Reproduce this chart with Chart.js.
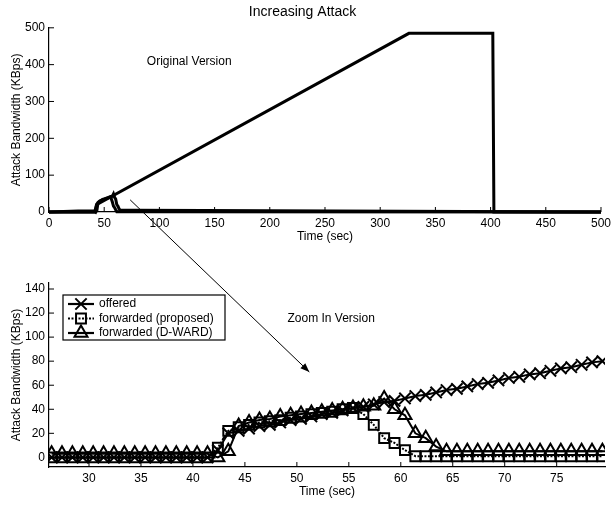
<!DOCTYPE html>
<html>
<head>
<meta charset="utf-8">
<script src="https://cdn.jsdelivr.net/npm/chart.js@4.4.1/dist/chart.umd.min.js"></script>
<style>
  html, body { margin: 0; padding: 0; background: #fff; }
  #wrap { position: relative; width: 615px; height: 505px; }
  #wrap canvas { position: absolute; left: 0; }
  #top   { top: 0; }
  #zoom  { top: 250px; }
  #arrow { top: 0; pointer-events: none; }
</style>
</head>
<body>
<div id="wrap">
  <canvas id="top" width="615" height="250"></canvas>
  <canvas id="zoom" width="615" height="255"></canvas>
  <canvas id="arrow" width="615" height="505"></canvas>
</div>
<script>
/* ═══════════════════════════════════════════════════════════
   DATA
════════════════════════════════════════════════════════════ */
// full run (top panel)
const fullTime    = [0, 41.4, 43, 326, 402, 403, 500];
const fullOffered = [0, 0, 20, 485, 485, 0, 0];
const fullTicksX  = [0, 50, 100, 150, 200, 250, 300, 350, 400, 450, 500];
const fullTicksY  = [0, 100, 200, 300, 400, 500];

// zoomed window (bottom panel), one sample per second
const zoomTime = [26.4, 27.4, 28.4, 29.4, 30.4, 31.4, 32.4, 33.4, 34.4, 35.4,
                  36.4, 37.4, 38.4, 39.4, 40.4, 41.4, 42.4, 43.4, 44.4, 45.4,
                  46.4, 47.4, 48.4, 49.4, 50.4, 51.4, 52.4, 53.4, 54.4, 55.4,
                  56.4, 57.4, 58.4, 59.4, 60.4, 61.4, 62.4, 63.4, 64.4, 65.4,
                  66.4, 67.4, 68.4, 69.4, 70.4, 71.4, 72.4, 73.4, 74.4, 75.4,
                  76.4, 77.4, 78.4, 79.4];
const offered  = [0, 0, 0, 0, 0, 0, 0, 0, 0, 0,
                  0, 0, 0, 0, 0, 0, 6, 20, 22, 24,
                  26, 27, 29, 31, 32, 34, 36, 37, 39, 41,
                  42, 44, 46, 47, 49, 51, 52, 54, 56, 57,
                  59, 61, 62, 64, 66, 67, 69, 70, 72, 74,
                  75, 77, 79, 80];
const fwdProposed = [0, 0, 0, 0, 0, 0, 0, 0, 0, 0,
                     0, 0, 0, 0, 0, 0, 8, 22, 25, 27,
                     29, 30, 31, 33, 34, 36, 37, 38, 40, 41,
                     36, 27, 16, 12, 6, 1, 1, 1, 1, 1,
                     1, 1, 1, 1, 1, 1, 1, 1, 1, 1,
                     1, 1, 1, 1];
const fwdDward = [3, 3, 3, 3, 3, 3, 3, 3, 3, 3,
                  3, 3, 3, 3, 3, 3, 0, 5, 26, 29,
                  31, 32, 34, 35, 36, 37, 38, 39, 40, 41,
                  42, 43, 49, 40, 35, 20, 16, 9, 5, 5,
                  5, 5, 5, 5, 5, 5, 5, 5, 5, 5,
                  5, 5, 5, 5];
const zoomTicksX = [30, 35, 40, 45, 50, 55, 60, 65, 70, 75];
const zoomTicksY = [0, 20, 40, 60, 80, 100, 120, 140];

const seriesNames = ['offered', 'forwarded (proposed)', 'forwarded (D-WARD)'];

/* ═══════════════════════════════════════════════════════════
   HELPERS
════════════════════════════════════════════════════════════ */
const FONT = '"Liberation Sans", Arial, Helvetica, sans-serif';
Chart.defaults.font.family = FONT;
Chart.defaults.color = '#000';

const pts = (xs, ys) => xs.map((x, i) => ({ x, y: ys[i] }));
const withEnds = ys => [{ x: 0, y: 0 }, ...pts(zoomTime, ys), { x: 500, y: 0 }];

function axis(min, max, tickVals, title, isX) {
  return {
    type: 'linear', min, max,
    border: { display: true, color: '#000', width: 1.2 },
    grid: { display: false, drawTicks: false },
    ticks: { color: '#000', font: { size: 12 }, padding: 4, autoSkip: false, maxRotation: 0 },
    afterBuildTicks: s => { s.ticks = tickVals.map(v => ({ value: v })); },
    afterFit: s => { if (isX) s.height = 38; else s.width = 49; },
    title: {
      display: true, text: title, color: '#000', font: { size: 12 },
      padding: isX ? { top: 0, bottom: 6 } : { top: 9, bottom: 0 }
    }
  };
}

/* ── inward tick marks (matlab look) ─────────────────── */
const inwardTicks = {
  id: 'inwardTicks',
  afterDraw(chart) {
    const { ctx, chartArea: a, scales: { x, y } } = chart;
    ctx.save();
    ctx.strokeStyle = '#000'; ctx.lineWidth = 1;
    ctx.beginPath();
    x.ticks.forEach(t => { const px = x.getPixelForValue(t.value); ctx.moveTo(px, a.bottom); ctx.lineTo(px, a.bottom - 5); });
    y.ticks.forEach(t => { const py = y.getPixelForValue(t.value); ctx.moveTo(a.left, py); ctx.lineTo(a.left + 5, py); });
    ctx.stroke();
    ctx.restore();
  }
};

/* ── free text note in data coords ───────────────────── */
const note = {
  id: 'note',
  afterDraw(chart, args, opts) {
    if (!opts.text) return;
    const { ctx, scales: { x, y } } = chart;
    ctx.save();
    ctx.fillStyle = '#000';
    ctx.font = '12px ' + FONT;
    ctx.textAlign = 'center'; ctx.textBaseline = 'middle';
    ctx.fillText(opts.text, x.getPixelForValue(opts.x), y.getPixelForValue(opts.y));
    ctx.restore();
  }
};

/* ── boxed legend inside plot ────────────────────────── */
const boxLegend = {
  id: 'boxLegend',
  afterDraw(chart) {
    const { ctx, chartArea: a } = chart;
    const x0 = a.left + 14, y0 = a.top + 12, w = 162, h = 45;
    ctx.save();
    ctx.fillStyle = '#fff'; ctx.fillRect(x0, y0, w, h);
    ctx.strokeStyle = '#000'; ctx.lineWidth = 1.2; ctx.strokeRect(x0, y0, w, h);
    chart.data.datasets.forEach((ds, i) => {
      const yy = y0 + 9 + i * 14.5;
      ctx.strokeStyle = '#000'; ctx.lineWidth = 2.2;
      ctx.setLineDash(ds.borderDash || []);
      ctx.beginPath(); ctx.moveTo(x0 + 5, yy); ctx.lineTo(x0 + 31, yy); ctx.stroke();
      ctx.setLineDash([]);
      ctx.fillStyle = 'rgba(0,0,0,0)'; ctx.lineWidth = ds.pointBorderWidth;
      Chart.helpers.drawPoint(ctx, { pointStyle: ds.pointStyle, radius: ds.pointRadius, borderWidth: ds.pointBorderWidth, rotation: 0 }, x0 + 18, yy);
      ctx.fillStyle = '#000';
      ctx.font = '12px ' + FONT;
      ctx.textAlign = 'left'; ctx.textBaseline = 'middle';
      ctx.fillText(ds.label, x0 + 36, yy);
    });
    ctx.restore();
  }
};

/* ═══════════════════════════════════════════════════════════
   TOP — full run
════════════════════════════════════════════════════════════ */
const lineDs = (label, data) => ({
  label, data, borderColor: '#000', borderWidth: 3, pointRadius: 0, tension: 0, clip: false
});

const topChart = new Chart(document.getElementById('top'), {
  type: 'line',
  data: {
    datasets: [
      lineDs(seriesNames[0], pts(fullTime, fullOffered)),
      lineDs(seriesNames[1], withEnds(fwdProposed)),
      lineDs(seriesNames[2], withEnds(fwdDward)),
    ]
  },
  options: {
    responsive: false, animation: false, events: [],
    layout: { padding: { left: 0, right: 10, top: 0, bottom: 0 } },
    scales: {
      x: axis(0, 500, fullTicksX, 'Time (sec)', true),
      y: axis(0, 500, fullTicksY, 'Attack Bandwidth (KBps)', false),
    },
    plugins: {
      legend: { display: false },
      tooltip: { enabled: false },
      title: { display: true, text: 'Increasing Attack', color: '#000', font: { size: 14, weight: 'normal' }, padding: { top: 4, bottom: 7 } },
      note: { text: 'Original Version', x: 127, y: 408 }
    }
  },
  plugins: [inwardTicks, note]
});

/* ═══════════════════════════════════════════════════════════
   BOTTOM — zoomed window
════════════════════════════════════════════════════════════ */
const markDs = (label, ys, style, r, dash) => ({
  label, data: pts(zoomTime, ys),
  borderColor: '#000', borderWidth: 2, borderDash: dash || [],
  pointStyle: style, pointRadius: r, pointBorderWidth: 2,
  pointBorderColor: '#000', pointBackgroundColor: 'rgba(0,0,0,0)', tension: 0
});

const zoomChart = new Chart(document.getElementById('zoom'), {
  type: 'line',
  data: {
    datasets: [
      markDs(seriesNames[0], offered, 'crossRot', 8),
      markDs(seriesNames[1], fwdProposed, 'rect', 7, [2, 1.5]),
      markDs(seriesNames[2], fwdDward, 'triangle', 7.5),
    ]
  },
  options: {
    responsive: false, animation: false, events: [],
    layout: { padding: { left: 0, right: 10, top: 33, bottom: 0 } },
    scales: {
      x: axis(26.15, 79.65, zoomTicksX, 'Time (sec)', true),
      y: axis(-8, 145, zoomTicksY, 'Attack Bandwidth (KBps)', false),
    },
    plugins: {
      legend: { display: false },
      tooltip: { enabled: false },
      note: { text: 'Zoom In Version', x: 53.3, y: 115 }
    }
  },
  plugins: [inwardTicks, note, boxLegend]
});

/* ── arrow from top panel into the zoom panel ────────── */
(function drawArrow() {
  const ctx = document.getElementById('arrow').getContext('2d');
  const x1 = topChart.scales.x.getPixelForValue(73.5);
  const y1 = topChart.scales.y.getPixelForValue(33);
  const x2 = zoomChart.scales.x.getPixelForValue(51.2);
  const y2 = zoomChart.scales.y.getPixelForValue(71) + 250;
  const ang = Math.atan2(y2 - y1, x2 - x1);
  ctx.strokeStyle = '#000'; ctx.fillStyle = '#000'; ctx.lineWidth = 1;
  ctx.beginPath(); ctx.moveTo(x1, y1); ctx.lineTo(x2, y2); ctx.stroke();
  ctx.beginPath();
  ctx.moveTo(x2, y2);
  ctx.lineTo(x2 - 9 * Math.cos(ang) + 3.5 * Math.sin(ang), y2 - 9 * Math.sin(ang) - 3.5 * Math.cos(ang));
  ctx.lineTo(x2 - 9 * Math.cos(ang) - 3.5 * Math.sin(ang), y2 - 9 * Math.sin(ang) + 3.5 * Math.cos(ang));
  ctx.closePath(); ctx.fill();
})();
</script>
</body>
</html>
